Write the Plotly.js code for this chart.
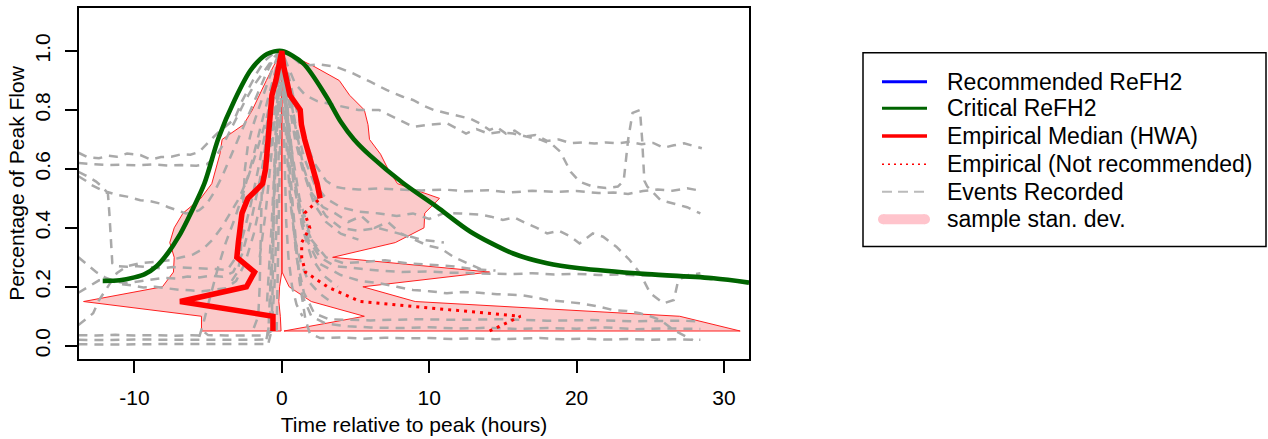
<!DOCTYPE html>
<html><head><meta charset="utf-8">
<script src="https://cdn.plot.ly/plotly-3.0.1.min.js"></script>
<style>html,body{margin:0;padding:0;background:#fff;} #chart{width:1268px;height:439px;}</style>
</head><body><div id="chart"></div>
<script>
// ---------- data ----------
const levels = [0.05,0.10,0.15,0.20,0.25,0.30,0.35,0.40,0.45,0.50,0.55,0.60,0.65,0.70,0.75,0.80,0.85,0.90,0.95,1.00];
// empirical median (HWA) times for each level
const medRise = [-0.6,-0.6,-6.9,-2.4,-1.85,-3.05,-2.95,-2.85,-2.7,-2.3,-1.3,-1.1,-1.02,-0.93,-0.85,-0.77,-0.67,-0.4,-0.2,0];
const medFall = [14.1,16.2,5.3,3.1,1.6,1.35,1.35,1.9,1.55,2.6,2.4,2.15,1.85,1.55,1.33,1.25,0.55,0.3,0.12,0];
// sample standard deviation envelope
const riseLo = [-5.45,-5.45,-13.45,-8.1,-7.35,-7.3,-7.6,-7.3,-6.7,-5.5,-4.75,-4.45,-4.2,-4.05,-2.6,-2.0,-1.55,-1.05,-0.55,0];
const riseHi = [-0.05,-0.1,-0.2,-0.15,0,0,0,0,0,0,0,0,0,0,0,0,0,0,0,0];
const fallLo = [0.15,5.6,2.0,0.5,0.02,0.02,0.02,0.02,0.02,0.02,0.02,0.02,0.02,0.02,0.02,0.02,0.02,0.02,0.02,0];
const fallHi = [31.1,27.0,9.05,5.5,14.1,3.45,7.7,9.65,9.7,10.7,7.85,7.2,6.7,5.95,5.85,5.6,4.6,3.9,2.1,0];
// critical ReFH2
const refhX = [-12.15,-11,-10,-9.3,-8.5,-7.75,-7,-6.4,-5.25,-4.3,-3.2,-2.1,-1,0,1.45,3.03,4.0,4.9,6.0,8.2,10.5,12.8,15.7,18,20.2,24.8,29.3,31.7];
const refhY = [0.22,0.222,0.232,0.243,0.27,0.313,0.37,0.427,0.551,0.704,0.834,0.936,0.99,1.0,0.958,0.845,0.76,0.70,0.645,0.553,0.472,0.387,0.313,0.28,0.263,0.243,0.229,0.214];
// recorded events
const ev1X = [-13.8,-12.6,-11.3,-10,-8.7,-7.4,-6.1,-5.6,-5.3,-5.0,-3.8,-2.5,-1.2,-0.7,-0.5,-0.3,-0.1,0,0.3,0.7,1.2,1.6,1.9,2.6,4,5.5,7,8.5,10,11.5,13,14.5,16,17.5,19,20.5,22,23.5,25,26.5,28.4];
const ev1Y = [0.036,0.035,0.037,0.035,0.036,0.034,0.036,0.035,0.048,0.036,0.035,0.036,0.035,0.05,0.2,0.5,0.85,1,0.8,0.5,0.22,0.09,0.042,0.026,0.028,0.024,0.027,0.025,0.026,0.023,0.025,0.022,0.024,0.026,0.022,0.024,0.021,0.023,0.02,0.022,0.02];
const ev2X = [-13.8,-12,-10,-8,-6,-4,-2,-1.0,-0.8,-0.6,-0.4,-0.2,0,0.2,0.5,0.9,1.4,2.0,3,4.5,6,8,10,12,14,16,18,20,22,24,26,28.4];
const ev2Y = [0.02,0.019,0.021,0.02,0.019,0.02,0.02,0.021,0.1,0.35,0.65,0.9,1,0.88,0.62,0.35,0.17,0.1,0.075,0.066,0.062,0.06,0.063,0.058,0.061,0.057,0.06,0.058,0.062,0.056,0.059,0.057];
const ev3X = [-13.8,-11,-8,-5,-2,-1.1,-0.9,-0.7,-0.45,-0.2,0,0.25,0.6,1.0,1.5,2.2,3.2,4.5,6,9,12,15,18,21,24,27,28.4];
const ev3Y = [0.005,0.004,0.006,0.005,0.006,0.006,0.06,0.3,0.62,0.88,1,0.8,0.5,0.3,0.18,0.11,0.09,0.088,0.086,0.09,0.088,0.09,0.085,0.087,0.083,0.085,0.083];
const ev4X = [-13.8,-13.2,-12.4,-11.8,-11.2,-10.5,-9.6,-8.9,-8.2,-7.5,-6.8,-6.2,-5.6,-5.0,-4.4,-3.8,-3.2,-2.7,-2.2,-1.7,-1.2,-0.6,0,0.6,1.4,2.5,3.7,4.8,6,7.1,8.2,8.9,9.6,10.3,11.2,12.1,12.8,13.4,14.1,14.6,15.2,15.8,16.4,17.2,18,18.8,19.6,20.4,21.2,22,22.8,23.6,24.4,25.2,25.9,26.6,27.3,28.5];
const ev4Y = [0.655,0.64,0.636,0.645,0.641,0.652,0.647,0.632,0.64,0.641,0.65,0.648,0.658,0.688,0.72,0.745,0.77,0.83,0.88,0.925,0.965,0.99,1,0.985,0.95,0.955,0.946,0.925,0.896,0.868,0.845,0.834,0.815,0.8,0.789,0.777,0.77,0.755,0.732,0.742,0.72,0.73,0.709,0.715,0.695,0.7,0.687,0.69,0.686,0.69,0.687,0.692,0.684,0.688,0.672,0.68,0.687,0.67];
const ev5X = [-13.8,-12.8,-11.8,-10.8,-9.8,-8.8,-7.8,-6.8,-5.8,-5.1,-4.5,-3.9,-3.2,-2.5,-1.8,-1.1,-0.5,0,0.4,0.9,1.5,2.2,3,3.6,4.2,5.2,6.6,8,9.5,11,12.5,14,15.5,17,18.5,20,21.5,22.5,23.5,24.5,25.5,26.5,27.5,28.2];
const ev5Y = [0.62,0.616,0.613,0.614,0.612,0.615,0.612,0.613,0.611,0.616,0.64,0.69,0.76,0.83,0.89,0.94,0.98,1,0.93,0.82,0.71,0.62,0.56,0.54,0.534,0.53,0.534,0.53,0.527,0.53,0.524,0.528,0.52,0.526,0.522,0.525,0.518,0.52,0.515,0.525,0.53,0.526,0.534,0.528];
const ev6X = [-13.8,-13.2,-12.6,-12.2,-11.9,-11.2,-10.5,-9.6,-8.9,-8.3,-7.7,-7.1,-6.5,-6,-5.6,-5.1,-4.6,-4.0,-3.4,-2.8,-2.2,-1.6,-1.0,-0.5,0,0.4,0.9,1.6,2.4,3.3,4.2,5.2,6.6,7.8,8.9,10,11.2,12.5,13.2,14,14.8,15.7,16.8,17.5,18.3,18.9,19.6,20.2,21.1,22,22.8,23.2,23.5,23.8,24.3,24.45,24.6,24.8,25.7,26.6,27.5,28.4];
const ev6Y = [0.59,0.575,0.557,0.54,0.523,0.512,0.506,0.494,0.49,0.483,0.47,0.46,0.449,0.452,0.46,0.48,0.52,0.58,0.65,0.72,0.79,0.86,0.93,0.98,1,0.95,0.89,0.85,0.83,0.82,0.81,0.8,0.8,0.77,0.743,0.75,0.755,0.72,0.735,0.72,0.725,0.72,0.709,0.7,0.685,0.658,0.59,0.557,0.54,0.535,0.54,0.56,0.7,0.79,0.8,0.7,0.56,0.54,0.494,0.483,0.47,0.449];
const ev7X = [-13.8,-13.3,-12.9,-12.3,-11.8,-11.7,-11.6,-11.5,-11.3,-10.5,-9.8,-9.0,-8.2,-7.4,-6.5,-5.8,-5.2,-4.5,-3.7,-3.1,-2.6,-2.1,-1.6,-1.1,-0.6,-0.2,0,0.4,0.9,1.5,2.2,3,4,5.2,6.6,7.8,8.9,10,11,12.1,13.4,14.2,15,15.8,16.6,17.3,18,18.8,19.6,20.2,21.1,21.8,22.7,23.6,24.3,25,25.9,26.6,26.9,27.6,28.4];
const ev7Y = [0.575,0.56,0.545,0.53,0.517,0.45,0.35,0.28,0.27,0.268,0.27,0.266,0.263,0.267,0.265,0.262,0.263,0.26,0.257,0.3,0.38,0.48,0.6,0.73,0.86,0.96,1,0.9,0.76,0.64,0.55,0.5,0.47,0.455,0.449,0.44,0.449,0.43,0.45,0.449,0.445,0.438,0.427,0.435,0.415,0.4,0.381,0.39,0.37,0.347,0.381,0.37,0.336,0.291,0.246,0.178,0.144,0.155,0.223,0.24,0.246];
const ev8X = [-13.8,-13.2,-12.6,-12,-11.3,-10.5,-9.6,-8.8,-8,-7.2,-6.4,-5.6,-4.8,-4,-3.3,-2.7,-2.1,-1.5,-0.9,-0.4,0,0.3,0.7,1.2,1.8,2.6,3.6,5,6.6,8.2,9.8,11.4,13,14.1,15.5,17,18.5,20,21.5,23,24.5,26,27.2,28.4];
const ev8Y = [0.3,0.275,0.25,0.232,0.218,0.212,0.22,0.225,0.23,0.228,0.235,0.232,0.238,0.234,0.25,0.31,0.42,0.56,0.72,0.9,1,0.85,0.62,0.45,0.36,0.3,0.27,0.262,0.255,0.25,0.252,0.248,0.246,0.245,0.243,0.246,0.242,0.244,0.24,0.242,0.238,0.241,0.237,0.236];
const ev9X = [-13.8,-13.4,-12.8,-12.4,-11.8,-11.2,-10.5,-9.6,-8.6,-7.6,-6.8,-6,-5.3,-4.7,-4.1,-3.5,-2.9,-2.3,-1.7,-1.1,-0.5,0,0.3,0.8,1.5,2.5,4,5.3,6.65,7.8,8.9,10,11.2,12.3,13.4,14.6,16.2,17.1,18,19.1,20.2,21.3,22.5,23.4,24.3,25,25.7,26.6,27.3,27.9];
const ev9Y = [0.07,0.087,0.11,0.155,0.2,0.246,0.27,0.28,0.285,0.29,0.3,0.31,0.33,0.36,0.4,0.45,0.5,0.57,0.66,0.76,0.88,1,0.8,0.55,0.38,0.28,0.24,0.22,0.212,0.2,0.189,0.185,0.178,0.182,0.18,0.175,0.172,0.165,0.155,0.15,0.144,0.135,0.121,0.118,0.11,0.1,0.087,0.053,0.035,0.019];
const ev10X = [-13.8,-13.1,-12.4,-11.7,-11,-10.2,-9.4,-8.6,-7.8,-7,-6.2,-5.4,-4.6,-3.8,-3.1,-2.5,-1.9,-1.3,-0.7,-0.2,0,0.5,1.2,2,3,4.2,5.5,7,8.5,10,11.5,13,14.5];
const ev10Y = [0.18,0.2,0.222,0.225,0.21,0.205,0.198,0.2,0.195,0.19,0.188,0.185,0.19,0.195,0.22,0.28,0.38,0.52,0.7,0.9,1,0.72,0.5,0.36,0.3,0.28,0.285,0.29,0.28,0.275,0.27,0.26,0.255];
const ev11X = [-5.6,-5.3,-5.0,-4.7,-4.3,-3.8,-3.2,-2.6,-2.0,-1.4,-0.8,-0.3,0,0.4,0.9,1.5,2.2,3.0,4.0,5.2,6.5,8,9.5,11];
const ev11Y = [0.03,0.08,0.14,0.2,0.27,0.35,0.43,0.52,0.63,0.75,0.87,0.96,1,0.9,0.75,0.6,0.5,0.44,0.4,0.39,0.4,0.38,0.36,0.35];
const ev12X = [-3.4,-3.0,-2.8,-2.7,-2.6,-2.5,-2.3,-2.0,-1.6,-1.2,-0.7,-0.3,0,0.3,0.7,1.1,1.6,2.2,3,4,5.2];
const ev12Y = [0.22,0.25,0.3,0.4,0.5,0.6,0.68,0.74,0.8,0.86,0.93,0.98,1,0.92,0.8,0.68,0.57,0.48,0.42,0.38,0.36];
const ev13X = [-1.9,-1.6,-1.5,-1.45,-1.4,-1.35,-1.2,-0.9,-0.5,-0.2,0,0.2,0.5,0.9,1.4,2,2.8,3.8];
const ev13Y = [0.06,0.1,0.2,0.32,0.45,0.55,0.65,0.77,0.9,0.97,1,0.9,0.75,0.55,0.4,0.3,0.24,0.2];
const ev14X = [-0.9,-0.7,-0.62,-0.58,-0.55,-0.5,-0.4,-0.25,-0.1,0,0.15,0.35,0.6,0.9,1.3,1.8,2.5,3.3];
const ev14Y = [0.01,0.05,0.2,0.35,0.5,0.62,0.75,0.88,0.96,1,0.85,0.65,0.48,0.36,0.28,0.22,0.18,0.15];
const ev15X = [-1.5,-1.1,-0.8,-0.5,-0.25,0,0.2,0.5,0.9,1.4,2,2.8,3.6,4.5,5.4,6.3,7.2,8.1,9,9.9,10.8,11.7,12.6,13.5];
const ev15Y = [0.3,0.45,0.6,0.75,0.9,1,0.93,0.82,0.7,0.6,0.52,0.47,0.45,0.42,0.44,0.4,0.42,0.38,0.36,0.34,0.33,0.3,0.28,0.26];
const ev16X = [-0.35,-0.3,-0.25,-0.2,-0.12,-0.05,0,0.08,0.15,0.22,0.3,0.45,0.7,1.0,1.4];
const ev16Y = [0.05,0.2,0.38,0.55,0.72,0.88,1,0.86,0.7,0.55,0.42,0.3,0.2,0.14,0.1];
const ev17X = [-1.0,-0.85,-0.7,-0.55,-0.4,-0.25,-0.1,0,0.12,0.3,0.5,0.75,1.1,1.5,2.1,2.8];
const ev17Y = [0.15,0.26,0.4,0.55,0.68,0.8,0.93,1,0.93,0.82,0.7,0.6,0.5,0.42,0.35,0.3];
const eventsX = [ev1X,ev2X,ev3X,ev4X,ev5X,ev6X,ev7X,ev8X,ev9X,ev10X,ev11X,ev12X,ev13X,ev14X,ev15X,ev16X,ev17X];
const eventsY = [ev1Y,ev2Y,ev3Y,ev4Y,ev5Y,ev6Y,ev7Y,ev8Y,ev9Y,ev10Y,ev11Y,ev12Y,ev13Y,ev14Y,ev15Y,ev16Y,ev17Y];
// legend labels and ticks
const legendLabels = ['Recommended ReFH2','Critical ReFH2','Empirical Median (HWA)','Empirical (Not recommended)','Events Recorded','sample stan. dev.'];
const xTicks = [-10,0,10,20,30];
const xTickText = ['-10','0','10','20','30'];
const yTicks = [0,0.2,0.4,0.6,0.8,1.0];
const yTickText = ['0.0','0.2','0.4','0.6','0.8','1.0'];

// ---------- traces ----------
const FONT = 'Liberation Sans, Arial, sans-serif';
const GREY = '#A9A9A9';
const PINK = 'rgba(240,60,60,0.27)';
function envelope(lo, hi){
  const x = lo.concat(hi.slice().reverse()); x.push(lo[0]);
  const y = levels.concat(levels.slice().reverse()); y.push(levels[0]);
  return {x:x, y:y};
}
const traces = [];
[envelope(riseLo, riseHi), envelope(fallLo, fallHi)].forEach(p => {
  traces.push({type:'scatter', mode:'lines', x:p.x, y:p.y, fill:'toself', fillcolor:PINK,
    line:{color:'#FF2020', width:1}, hoverinfo:'skip', showlegend:false});
});
for (let i = 0; i < eventsX.length; i++) {
  traces.push({type:'scatter', mode:'lines', x:eventsX[i], y:eventsY[i],
    line:{color:GREY, width:2.5, dash:'9px,7px'}, hoverinfo:'skip', showlegend:false});
}
// dotted part of falling median (levels <= 0.5)
const dotIdx = levels.map((l,i)=>i).filter(i => levels[i] <= 0.5 + 1e-9);
traces.push({type:'scatter', mode:'lines', x:dotIdx.map(i=>medFall[i]), y:dotIdx.map(i=>levels[i]),
  line:{color:'#FF0000', width:3, dash:'3px,5px'}, hoverinfo:'skip', showlegend:false});
traces.push({type:'scatter', mode:'lines', x:refhX, y:refhY, line:{color:'#006400', width:4.6, shape:'spline', smoothing:0.8},
  hoverinfo:'skip', showlegend:false});
const solidIdx = levels.map((l,i)=>i).filter(i => levels[i] >= 0.5 - 1e-9);
const medX = medRise.slice(); const medY = levels.slice();
solidIdx.slice().reverse().forEach(i => { medX.push(medFall[i]); medY.push(levels[i]); });
traces.push({type:'scatter', mode:'lines', x:medX, y:medY, line:{color:'#FF0000', width:5.5},
  hoverinfo:'skip', showlegend:false});

// ---------- legend (drawn in paper space) ----------
const L = 79, R = 749, T = 8, B = 359;
const px = v => (v - L) / (R - L);
const py = v => (B - v) / (B - T);
const rows = [81.7,108.3,136,164.3,191.7,219.3];
const shapes = [
  {type:'rect', xref:'paper', yref:'paper', x0:px(863), x1:px(1266), y0:py(246.5), y1:py(52.7), line:{color:'#000', width:1.5}, fillcolor:'rgba(0,0,0,0)'},
  {type:'line', xref:'paper', yref:'paper', x0:px(882), x1:px(927), y0:py(rows[0]), y1:py(rows[0]), line:{color:'#0000FF', width:3}},
  {type:'line', xref:'paper', yref:'paper', x0:px(882), x1:px(927), y0:py(rows[1]), y1:py(rows[1]), line:{color:'#006400', width:3}},
  {type:'line', xref:'paper', yref:'paper', x0:px(882), x1:px(927), y0:py(rows[2]), y1:py(rows[2]), line:{color:'#FF0000', width:3.5}},
  {type:'line', xref:'paper', yref:'paper', x0:px(882), x1:px(927), y0:py(rows[3]), y1:py(rows[3]), line:{color:'#FF0000', width:1.5, dash:'2px,4px'}},
  {type:'line', xref:'paper', yref:'paper', x0:px(882), x1:px(927), y0:py(rows[4]), y1:py(rows[4]), line:{color:'#BBBBBB', width:2, dash:'10px,6px'}},
  {type:'line', xref:'paper', yref:'paper', x0:px(883), x1:px(925), y0:py(rows[5]), y1:py(rows[5]), line:{color:'#FFC4CC', width:10}},
  {type:'circle', xref:'paper', yref:'paper', x0:px(878), x1:px(888), y0:py(rows[5]+5), y1:py(rows[5]-5), line:{width:0}, fillcolor:'#FFC4CC'},
  {type:'circle', xref:'paper', yref:'paper', x0:px(920), x1:px(930), y0:py(rows[5]+5), y1:py(rows[5]-5), line:{width:0}, fillcolor:'#FFC4CC'}
];
const annotations = legendLabels.map((t,i) => ({
  text:t, xref:'paper', yref:'paper', x:px(945), y:py(rows[i]), xanchor:'left', yanchor:'middle',
  showarrow:false, font:{family:FONT, size:23, color:'#000'}
}));

const layout = {
  width:1268, height:439,
  margin:{l:L, r:1268-R, t:T, b:439-B},
  paper_bgcolor:'#fff', plot_bgcolor:'#fff',
  showlegend:false,
  font:{family:FONT, color:'#000'},
  xaxis:{range:[-13.76,31.7], tickvals:xTicks, ticktext:xTickText, ticks:'outside', ticklen:12, tickwidth:2, tickcolor:'#000',
    ticklabelstandoff:7,
    showline:true, mirror:true, linecolor:'#000', linewidth:2, showgrid:false, zeroline:false,
    tickfont:{family:FONT, size:21}, automargin:false,
    title:{text:'Time relative to peak (hours)', font:{family:FONT, size:21}, standoff:9}},
  yaxis:{range:[-0.045,1.146], tickvals:yTicks, ticktext:yTickText, tickangle:-90, ticks:'outside', ticklen:12, tickwidth:2, tickcolor:'#000',
    ticklabelstandoff:7,
    showline:true, mirror:true, linecolor:'#000', linewidth:2, showgrid:false, zeroline:false,
    tickfont:{family:FONT, size:21}, automargin:false,
    title:{text:'Percentage of Peak Flow', font:{family:FONT, size:21}, standoff:0}},
  shapes:shapes, annotations:annotations
};
Plotly.newPlot('chart', traces, layout, {displayModeBar:false, staticPlot:true});
</script></body></html>
